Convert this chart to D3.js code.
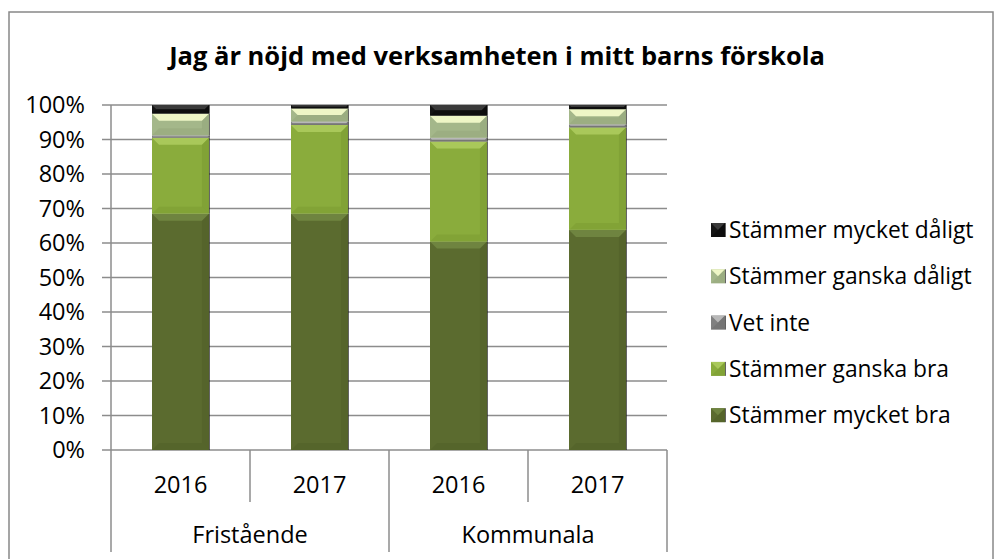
<!DOCTYPE html>
<html>
<head>
<meta charset="utf-8">
<script src="https://cdn.jsdelivr.net/npm/d3@7"></script>
<style>
  body { margin: 0; background: #fff; }
  text { font-family: "Open Sans", Lato, sans-serif; fill: #000; }
</style>
</head>
<body>
<div id="chart"></div>
<script>
const title = 'Jag är nöjd med verksamheten i mitt barns förskola';
const groups = ['Fristående', 'Kommunala'];
const years = ['2016', '2017'];
const seriesNames = ['Stämmer mycket bra', 'Stämmer ganska bra', 'Vet inte', 'Stämmer ganska dåligt', 'Stämmer mycket dåligt'];
// values in percent, order: Fristående 2016, Fristående 2017, Kommunala 2016, Kommunala 2017
const mycketBra = [68.5, 68.5, 60.4, 63.8];
const ganskaBra = [22.0, 25.7, 29.0, 29.7];
const vetInte = [0.7, 1.0, 1.1, 0.9];
const ganskaDaligt = [6.3, 3.8, 6.4, 4.4];
const mycketDaligt = [2.5, 1.0, 3.1, 1.2];
const yTicks = [0, 0.1, 0.2, 0.3, 0.4, 0.5, 0.6, 0.7, 0.8, 0.9, 1];

const colors = ['#5b6b2f', '#8aac3c', '#808080', '#a4b78a', '#151515'];
const lights = ['#6f8440', '#a9c85a', '#b8b8b8', '#eef6c6', '#3a3a3a'];
const darks = ['#4a5825', '#718f2c', '#606060', '#8a9c70', '#000000'];

const W = 996, H = 559;
const margin = {top: 105, left: 111, plotRight: 667, bottom: 450};
const fs = '23.5px';

const rows = [];
groups.forEach((g, gi) => years.forEach((y, yi) => {
	const i = gi * years.length + yi;
	rows.push({
		key: g + ' ' + y, group: g, year: y,
		s0: mycketBra[i] / 100, s1: ganskaBra[i] / 100, s2: vetInte[i] / 100,
		s3: ganskaDaligt[i] / 100, s4: mycketDaligt[i] / 100
	});
}));

const svg = d3.select('#chart').append('svg')
	.attr('width', W).attr('height', H);

// outer border
svg.append('rect')
	.attr('x', 9).attr('y', 12)
	.attr('width', 984).attr('height', 560)
	.attr('fill', 'none').attr('stroke', '#888').attr('stroke-width', 1.5);

svg.append('text')
	.attr('x', 497).attr('y', 65)
	.attr('text-anchor', 'middle')
	.style('font-size', '25.5px').style('font-weight', 'bold')
	.text(title);

const x = d3.scaleBand()
	.domain(rows.map(d => d.key))
	.range([margin.left, margin.plotRight])
	.paddingInner(0.59).paddingOuter(0.295);

const y = d3.scaleLinear().domain([0, 1]).range([margin.bottom, margin.top]);

// gridlines
svg.append('g').selectAll('line')
	.data(yTicks)
	.join('line')
	.attr('x1', margin.left - 9).attr('x2', margin.plotRight)
	.attr('y1', d => y(d)).attr('y2', d => y(d))
	.attr('stroke', '#8c8c8c').attr('stroke-width', 1.5);

// y labels
const yAxis = d3.axisLeft(y).tickValues(yTicks).tickFormat(d3.format('.0%')).tickSize(0).tickPadding(26);
svg.append('g')
	.attr('transform', `translate(${margin.left},0)`)
	.call(yAxis)
	.call(g => g.select('.domain').remove())
	.call(g => g.selectAll('text').style('font-size', fs).attr('font-family', null));

// left axis line
svg.append('line')
	.attr('x1', margin.left).attr('x2', margin.left)
	.attr('y1', margin.top).attr('y2', margin.bottom)
	.attr('stroke', '#8c8c8c').attr('stroke-width', 1.5);

// category axis dividers
const step = x.step();
const dividers = d3.range(rows.length + 1).map(i => ({
	x: margin.left + i * step,
	outer: i % years.length === 0
}));
svg.append('g').selectAll('line')
	.data(dividers)
	.join('line')
	.attr('x1', d => d.x).attr('x2', d => d.x)
	.attr('y1', margin.bottom)
	.attr('y2', d => d.outer ? 552 : 502)
	.attr('stroke', '#8c8c8c').attr('stroke-width', 1.5);

svg.append('g').selectAll('text')
	.data(rows)
	.join('text')
	.attr('x', d => x(d.key) + x.bandwidth() / 2)
	.attr('y', 485)
	.attr('dy', '0.35em')
	.attr('text-anchor', 'middle')
	.style('font-size', fs)
	.text(d => d.year);

svg.append('g').selectAll('text')
	.data(groups)
	.join('text')
	.attr('x', (d, i) => margin.left + (i + 0.5) * step * years.length)
	.attr('y', 535)
	.attr('dy', '0.35em')
	.attr('text-anchor', 'middle')
	.style('font-size', fs)
	.text(d => d);

// stacked bars with a bevel look
const stack = d3.stack().keys(['s0', 's1', 's2', 's3', 's4']);
const series = stack(rows);

function bevel(g, x0, y0, w, h, si) {
	const b = Math.min(7, h / 2);
	g.append('rect').attr('x', x0).attr('y', y0).attr('width', w).attr('height', h)
		.attr('fill', colors[si]);
	g.append('polygon')
		.attr('points', [[x0, y0], [x0 + w, y0], [x0 + w - b, y0 + b], [x0 + b, y0 + b]].join(' '))
		.attr('fill', lights[si]);
	g.append('polygon')
		.attr('points', [[x0, y0 + h], [x0 + w, y0 + h], [x0 + w - b, y0 + h - b], [x0 + b, y0 + h - b]].join(' '))
		.attr('fill', darks[si]).attr('opacity', 0.3);
	g.append('polygon')
		.attr('points', [[x0 + w, y0], [x0 + w, y0 + h], [x0 + w - b, y0 + h - b], [x0 + w - b, y0 + b]].join(' '))
		.attr('fill', darks[si]).attr('opacity', 0.35);
	g.append('line')
		.attr('x1', x0 + w + 0.5).attr('x2', x0 + w + 0.5)
		.attr('y1', y0).attr('y2', y0 + h)
		.attr('stroke', '#222').attr('stroke-width', 1).attr('opacity', 0.7);
}

const bars = svg.append('g');
series.forEach((s, si) => {
	s.forEach(d => {
		const y0 = y(d[1]);
		const h = y(d[0]) - y(d[1]);
		if (h <= 0) return;
		bevel(bars.append('g'), x(d.data.key), y0, x.bandwidth(), h, si);
	});
});

// legend, top item is the last series
const legendOrder = seriesNames.map((n, i) => ({name: n, i: i})).reverse();
const leg = svg.append('g').selectAll('g')
	.data(legendOrder)
	.join('g')
	.attr('transform', (d, k) => `translate(711, ${230 + k * 46.3})`);
leg.each(function (d) {
	bevel(d3.select(this), 0, -7, 14, 14, d.i);
});
leg.append('text')
	.attr('x', 18)
	.attr('dy', '0.35em')
	.style('font-size', '22.8px')
	.text(d => d.name);
</script>
</body>
</html>
